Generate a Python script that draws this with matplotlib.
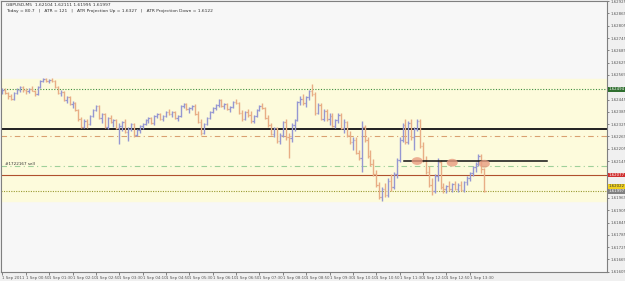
import numpy as np
import matplotlib
matplotlib.use("Agg")
import matplotlib.pyplot as plt
from matplotlib.patches import Ellipse

# GBPUSD M5 bars, 1 Sep 2011 from 00:10
opens = [1.6248, 1.6249, 1.62475, 1.6246, 1.6245, 1.62475, 1.6249, 1.62505, 1.6249, 1.62485,
         1.62495, 1.62485, 1.6247, 1.62505, 1.62535, 1.62545, 1.62535, 1.6254, 1.62535, 1.62505,
         1.62475, 1.6248, 1.62445, 1.62455, 1.62425, 1.6243, 1.62395, 1.6235, 1.6231, 1.6234,
         1.62325, 1.62365, 1.62395, 1.62415, 1.62355, 1.62375, 1.6231, 1.62355, 1.62335, 1.62345,
         1.62305, 1.62315, 1.62335, 1.62285, 1.623, 1.62325, 1.6227, 1.62295, 1.62315, 1.62325,
         1.62345, 1.62355, 1.6233, 1.62365, 1.62375, 1.6235, 1.62365, 1.62385, 1.62375, 1.62385,
         1.62355, 1.62365, 1.62415, 1.62425, 1.624, 1.62405, 1.62415, 1.62375, 1.62335, 1.6228,
         1.62325, 1.62355, 1.62385, 1.62405, 1.6242, 1.62445, 1.62415, 1.62425, 1.624, 1.6241,
         1.62435, 1.6243, 1.6238, 1.6235, 1.62385, 1.6237, 1.6234, 1.62365, 1.62395, 1.62415,
         1.62405, 1.62355, 1.6232, 1.62275, 1.62305, 1.62245, 1.6227, 1.62335, 1.6226, 1.62255,
         1.6232, 1.62345, 1.62435, 1.6245, 1.6243, 1.62455, 1.62485, 1.6247, 1.6238, 1.6242,
         1.6235, 1.6239, 1.6235, 1.62365, 1.62315, 1.62345, 1.6237, 1.62305, 1.62335, 1.6227,
         1.6224, 1.6225, 1.62185, 1.6216, 1.6231, 1.6225, 1.6217, 1.6213, 1.6208, 1.6203,
         1.61970, 1.6201, 1.6198, 1.6205, 1.6202, 1.6208, 1.6215, 1.6225, 1.6232, 1.6224,
         1.6233, 1.6226, 1.623, 1.6234, 1.6222, 1.6215, 1.6209, 1.6203, 1.62, 1.6207,
         1.6214, 1.6202, 1.6201, 1.62025, 1.6201, 1.62035, 1.6201, 1.6203, 1.62005, 1.62045,
         1.6206, 1.62085, 1.62115, 1.6213, 1.6217, 1.62104]
highs = [1.625, 1.625, 1.6248, 1.6247, 1.6248, 1.625, 1.6251, 1.6251, 1.625, 1.625,
         1.6251, 1.6249, 1.6251, 1.6254, 1.6255, 1.6255, 1.62545, 1.6255, 1.6254, 1.6251,
         1.6249, 1.62485, 1.6246, 1.6246, 1.6244, 1.62435, 1.624, 1.6236, 1.6235, 1.6235,
         1.6237, 1.624, 1.6242, 1.6242, 1.6238, 1.6238, 1.6236, 1.6237, 1.6235, 1.6235,
         1.6233, 1.6234, 1.6235, 1.6231, 1.6233, 1.6233, 1.623, 1.6232, 1.6233, 1.6235,
         1.6236, 1.6236, 1.6237, 1.6238, 1.6238, 1.6237, 1.6239, 1.624, 1.6239, 1.6239,
         1.6237, 1.6242, 1.6243, 1.6243, 1.6241, 1.6242, 1.62425, 1.6239, 1.6235, 1.6233,
         1.6236, 1.6239, 1.6241, 1.62425, 1.6245, 1.6245, 1.6243, 1.6243, 1.62415, 1.6244,
         1.6245, 1.62435, 1.62395, 1.6239, 1.624, 1.6239, 1.6237, 1.624, 1.6242, 1.6243,
         1.6241, 1.6237, 1.6233, 1.6231, 1.6231, 1.6228, 1.6234, 1.6235, 1.6228, 1.6233,
         1.6235, 1.6244, 1.6246, 1.6247, 1.6246, 1.6249, 1.6252, 1.6248, 1.6243, 1.6243,
         1.624, 1.624, 1.6238, 1.6238, 1.6235, 1.6238, 1.6238, 1.6235, 1.6234, 1.6229,
         1.6226, 1.6226, 1.622, 1.6234, 1.6232, 1.6226, 1.622, 1.62155, 1.621, 1.62045,
         1.6202, 1.6204, 1.6206, 1.6208, 1.6209, 1.6216, 1.6226, 1.6233, 1.6235, 1.6234,
         1.6235, 1.6231, 1.6235, 1.6235, 1.6224, 1.6217, 1.6212, 1.6206, 1.6208, 1.6216,
         1.6215, 1.6204, 1.6203, 1.6205, 1.6204, 1.6205, 1.6204, 1.6205, 1.6205, 1.6207,
         1.6209, 1.6212, 1.6214, 1.6218, 1.6218, 1.62111]
lows = [1.6247, 1.6247, 1.6245, 1.62445, 1.62445, 1.6247, 1.6248, 1.6248, 1.6247, 1.62475,
        1.62485, 1.6246, 1.62465, 1.625, 1.6253, 1.6253, 1.62525, 1.6253, 1.625, 1.6247,
        1.6246, 1.6244, 1.6243, 1.6242, 1.62405, 1.6239, 1.6234, 1.62305, 1.62305, 1.62305,
        1.6232, 1.6236, 1.6239, 1.6235, 1.6233, 1.62305, 1.623, 1.6233, 1.6231, 1.623,
        1.6223, 1.6229, 1.6228, 1.62245, 1.6229, 1.6226, 1.62265, 1.6228, 1.623, 1.6232,
        1.6233, 1.62325, 1.6232, 1.62355, 1.62345, 1.6234, 1.6236, 1.6237, 1.6236, 1.6235,
        1.6234, 1.6236, 1.62405, 1.62395, 1.6238, 1.62395, 1.6237, 1.6233, 1.6227, 1.62275,
        1.6232, 1.6235, 1.6238, 1.62395, 1.6241, 1.6241, 1.624, 1.62395, 1.62385, 1.62405,
        1.62425, 1.62375, 1.6234, 1.62345, 1.6236, 1.6233, 1.6233, 1.6236, 1.6239, 1.624,
        1.6235, 1.6231, 1.6227, 1.6226, 1.62235, 1.6223, 1.6226, 1.6225, 1.6216, 1.6224,
        1.6229, 1.6234, 1.6242, 1.6242, 1.6241, 1.62445, 1.6246, 1.6237, 1.62375, 1.62345,
        1.6234, 1.6234, 1.6232, 1.6231, 1.62305, 1.6233, 1.623, 1.6228, 1.6226, 1.6223,
        1.622, 1.6218, 1.6215, 1.6209, 1.6224, 1.6216, 1.6212, 1.6207, 1.6202, 1.61960,
        1.61950, 1.6197, 1.6197, 1.62, 1.6201, 1.6206, 1.6214, 1.6224, 1.6223, 1.6223,
        1.6225, 1.622, 1.6229, 1.6221, 1.6214, 1.6208, 1.6202, 1.6198, 1.6199, 1.6205,
        1.6201, 1.6199, 1.6199, 1.62, 1.61995, 1.62005, 1.61995, 1.62, 1.61995, 1.6203,
        1.6205, 1.6207, 1.6209, 1.6212, 1.62085, 1.61995]
closes = [1.6249, 1.62475, 1.6246, 1.6245, 1.62475, 1.6249, 1.62505, 1.6249, 1.62485, 1.62495,
          1.62485, 1.6247, 1.62505, 1.62535, 1.62545, 1.62535, 1.6254, 1.62535, 1.62505, 1.62475,
          1.6248, 1.62445, 1.62455, 1.62425, 1.6243, 1.62395, 1.6235, 1.6231, 1.6234, 1.62325,
          1.62365, 1.62395, 1.62415, 1.62355, 1.62375, 1.6231, 1.62355, 1.62335, 1.62345, 1.62305,
          1.62315, 1.62335, 1.62285, 1.623, 1.62325, 1.6227, 1.62295, 1.62315, 1.62325, 1.62345,
          1.62355, 1.6233, 1.62365, 1.62375, 1.6235, 1.62365, 1.62385, 1.62375, 1.62385, 1.62355,
          1.62365, 1.62415, 1.62425, 1.624, 1.62405, 1.62415, 1.62375, 1.62335, 1.6228, 1.62325,
          1.62355, 1.62385, 1.62405, 1.6242, 1.62445, 1.62415, 1.62425, 1.624, 1.6241, 1.62435,
          1.6243, 1.6238, 1.6235, 1.62385, 1.6237, 1.6234, 1.62365, 1.62395, 1.62415, 1.62405,
          1.62355, 1.6232, 1.62275, 1.62305, 1.62245, 1.6227, 1.62335, 1.6226, 1.62255, 1.6232,
          1.62345, 1.62435, 1.6245, 1.6243, 1.62455, 1.62485, 1.6247, 1.6238, 1.6242, 1.6235,
          1.6239, 1.6235, 1.62365, 1.62315, 1.62345, 1.6237, 1.62305, 1.62335, 1.6227, 1.6224,
          1.6225, 1.62185, 1.6216, 1.6231, 1.6225, 1.6217, 1.6213, 1.6208, 1.6203, 1.6197,
          1.6201, 1.6198, 1.6205, 1.6202, 1.6208, 1.6215, 1.6225, 1.6232, 1.6224, 1.6233,
          1.6226, 1.623, 1.6234, 1.6222, 1.6215, 1.6209, 1.6203, 1.62, 1.6207, 1.6214,
          1.6202, 1.6201, 1.62025, 1.6201, 1.62035, 1.6201, 1.6203, 1.62005, 1.62045, 1.6206,
          1.62085, 1.62115, 1.6213, 1.6217, 1.62104, 1.61997]

price_ticks = [round(1.61605 + 0.0006 * k, 5) for k in range(23)]
time_labels = ["1 Sep 2011", "1 Sep 00:50", "1 Sep 01:30", "1 Sep 02:10", "1 Sep 02:50",
               "1 Sep 03:30", "1 Sep 04:10", "1 Sep 04:50", "1 Sep 05:30", "1 Sep 06:10",
               "1 Sep 06:50", "1 Sep 07:30", "1 Sep 08:10", "1 Sep 08:50", "1 Sep 09:30",
               "1 Sep 10:10", "1 Sep 10:50", "1 Sep 11:30", "1 Sep 12:10", "1 Sep 12:50",
               "1 Sep 13:30"]

# levels drawn on the chart
zone_top, zone_bottom = 1.62545, 1.61950
atr_line = 1.62494
pivot_line = 1.62301
orange_level = 1.62269
sell_level = 1.62120
red_level = 1.62077
ask_level = 1.62022
bid = 1.61997
trend_x = [137.5, 186.5]
trend_y = [1.62145, 1.62145]
blob_x = [142, 154, 165]
blob_y = [1.62145, 1.62137, 1.62132]

header1 = "GBPUSD,M5  1.62104 1.62111 1.61995 1.61997"
header2 = "Today = 80.7   |   ATR = 121   |   ATR Projection Up = 1.6327   |   ATR Projection Down = 1.6122"

fig = plt.figure(figsize=(6.25, 2.81), dpi=100, facecolor="#f0f0f0")
ax = fig.add_axes([1 / 625, 1 - 272 / 281, 606 / 625, 271 / 281])
ax.set_facecolor("#f7f7f7")
ax.set_xlim(-0.5, 207)
ax.set_ylim(1.61604, 1.629255)

ax.axhspan(zone_bottom, zone_top, color="#fdfbdc", zorder=0)
ax.axhline(atr_line, color="#3f8f3f", lw=0.8, ls=(0, (1, 1.5)), zorder=1)
ax.axhline(pivot_line, color="#202020", lw=1.4, zorder=1)
ax.axhline(orange_level, color="#d9a070", lw=0.8, ls=(0, (5, 3, 1, 3)), zorder=1)
ax.axhline(sell_level, color="#9fd09a", lw=0.8, ls=(0, (5, 3, 1, 3)), zorder=1)
ax.axhline(red_level, color="#b0502e", lw=0.8, zorder=1)
ax.axhline(bid, color="#9a9a30", lw=0.8, ls=(0, (1, 1.2)), zorder=1)
ax.plot(trend_x, trend_y, color="#111111", lw=1.1, zorder=3)

x = np.arange(len(closes))
up_color, down_color = "#9597d2", "#e8ad85"
for i in x:
    c = up_color if closes[i] >= opens[i] else down_color
    ax.vlines(i, lows[i], highs[i], color=c, lw=1.0, zorder=2)
    ax.hlines(opens[i], i - 0.45, i, color=c, lw=0.9, zorder=2)
    ax.hlines(closes[i], i, i + 0.45, color=c, lw=0.9, zorder=2)

for bx, by in zip(blob_x, blob_y):
    ax.add_patch(Ellipse((bx, by), 3.8, 0.00038, color="#e89c80", alpha=0.8, lw=0, zorder=4))

ax.text(1.0, sell_level + 0.00004, "#1722167 sell", fontsize=3.0, color="#333333")
fig.text(6 / 625, 1 - 5 / 281, header1, fontsize=3.2, color="#333333", va="center")
fig.text(6 / 625, 1 - 11 / 281, header2, fontsize=3.2, color="#333333", va="center")

# y axis on the right; labels hidden under the price boxes are left blank
boxes = [(atr_line, "#2e6e2e", "white"), (red_level, "#d03030", "white"),
         (ask_level, "#f0d020", "#333333"), (bid, "#808080", "white")]
ax.yaxis.tick_right()
ax.set_yticks(price_ticks)
ax.set_yticklabels(["" if min(abs(p - b[0]) for b in boxes) < 0.0003 else "%.5f" % p
                    for p in price_ticks])
ax.tick_params(axis="y", labelsize=2.8, colors="#555555", length=1.5, width=0.5, pad=0.8)
for price, fc, tc in boxes:
    ax.annotate("%.5f" % price, xy=(1.0, price), xycoords=("axes fraction", "data"),
                xytext=(1.2, 0), textcoords="offset points", fontsize=2.8, color=tc,
                va="center", ha="left", annotation_clip=False,
                bbox=dict(boxstyle="square,pad=0.12", fc=fc, ec="none"))

# time axis
ax.set_xticks(np.arange(0, 8 * len(time_labels), 8))
ax.set_xticklabels(time_labels, ha="left")
ax.tick_params(axis="x", labelsize=2.8, colors="#555555", length=2, width=0.5, pad=1)

for side in ["left", "right", "bottom", "top"]:
    ax.spines[side].set_color("#808080")
    ax.spines[side].set_linewidth(0.8)

fig.savefig("out.png", dpi=100, facecolor=fig.get_facecolor())
